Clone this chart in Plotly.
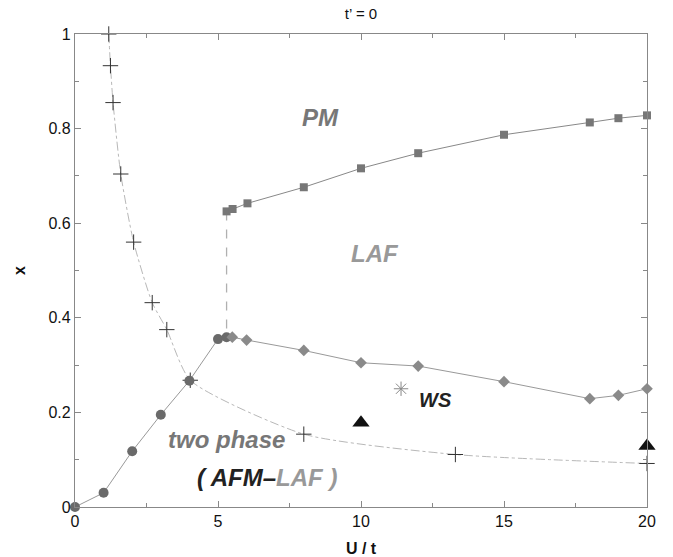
import plotly.graph_objects as go

# PM / LAF boundary (squares)
sq_u = [5.30, 5.51, 6.03, 8.0, 10.0, 12.0, 15.0, 18.0, 19.0, 20.0]
sq_x = [0.625, 0.630, 0.642, 0.676, 0.716, 0.748, 0.787, 0.813, 0.822, 0.828]

# two-phase boundary (circles)
ci_u = [0.0, 1.0, 2.0, 3.0, 4.0, 5.0, 5.3]
ci_x = [0.0, 0.030, 0.118, 0.195, 0.267, 0.355, 0.359]

# LAF / WS boundary (diamonds)
di_u = [5.5, 6.0, 8.0, 10.0, 12.0, 15.0, 18.0, 19.0, 20.0]
di_x = [0.359, 0.353, 0.331, 0.305, 0.298, 0.265, 0.229, 0.236, 0.250]

# vertical dashed boundary
vd_u = [5.3, 5.3]
vd_x = [0.625, 0.359]

# crosses curve
cr_u = [1.18, 1.24, 1.33, 1.60, 2.05, 2.70, 3.21, 4.03, 8.0, 13.3, 20.0]
cr_x = [1.0, 0.933, 0.855, 0.704, 0.560, 0.432, 0.375, 0.268, 0.154, 0.111, 0.092]

# triangles
tr_u = [10.0, 20.0]
tr_x = [0.178, 0.129]

# star
st_u = [11.4]
st_x = [0.250]

fig = go.Figure()

fig.add_trace(go.Scatter(x=vd_u, y=vd_x, mode="lines",
                         line=dict(color="#b0b0b0", width=1.3, dash="dash"), cliponaxis=False))
fig.add_trace(go.Scatter(x=cr_u, y=cr_x, mode="lines+markers",
                         line=dict(color="#b8b8b8", width=1, dash="dashdot", shape="spline", smoothing=0.6),
                         marker=dict(symbol="cross-thin-open", size=11, color="#333", line=dict(width=1, color="#333")),
                         cliponaxis=False))
fig.add_trace(go.Scatter(x=ci_u, y=ci_x, mode="lines+markers",
                         line=dict(color="#999", width=1),
                         marker=dict(symbol="circle", size=10, color="#6a6a6a"), cliponaxis=False))
fig.add_trace(go.Scatter(x=di_u, y=di_x, mode="lines+markers",
                         line=dict(color="#999", width=1),
                         marker=dict(symbol="diamond", size=9, color="#8a8a8a"), cliponaxis=False))
fig.add_trace(go.Scatter(x=sq_u, y=sq_x, mode="lines+markers",
                         line=dict(color="#888", width=1),
                         marker=dict(symbol="square", size=8, color="#777"), cliponaxis=False))
fig.add_trace(go.Scatter(x=tr_u, y=tr_x, mode="markers",
                         marker=dict(symbol="triangle-up", size=15, color="#111"), cliponaxis=False))
fig.add_trace(go.Scatter(x=st_u, y=st_x, mode="markers",
                         marker=dict(symbol="asterisk-open", size=12, color="#888", line=dict(width=1, color="#888")),
                         cliponaxis=False))

lab_font = "Liberation Sans, Arial, sans-serif"
anns = [
    dict(x=8.57, y=0.824, text="<b><i>PM</i></b>", font=dict(size=24, color="#777")),
    dict(x=10.49, y=0.535, text="<b><i>LAF</i></b>", font=dict(size=24, color="#999")),
    dict(x=12.62, y=0.226, text="<b><i>WS</i></b>", font=dict(size=20, color="#222")),
    dict(x=5.3, y=0.143, text="<b><i>two phase</i></b>", font=dict(size=24, color="#777")),
    dict(x=6.7, y=0.063,
         text="<b><i>( AFM\u2013<span style='color:#999'>LAF )</span></i></b>",
         font=dict(size=24, color="#222")),
]
for a in anns:
    a.update(xref="x", yref="y", showarrow=False)
    a["font"]["family"] = lab_font
fig.update_layout(annotations=anns)

axis_common = dict(showline=True, linecolor="#888", linewidth=1.2, mirror="ticks",
                   ticks="inside", ticklen=6, tickcolor="#888", showgrid=False, zeroline=False,
                   automargin=False,
                   tickfont=dict(size=16, color="#111", family=lab_font))
fig.update_xaxes(range=[0, 20], tick0=0, dtick=5,
                 minor=dict(dtick=2.5, ticks="inside", ticklen=4, tickcolor="#888"),
                 title=dict(text="<b>U / t</b>", font=dict(size=16, color="#111", family=lab_font), standoff=14),
                 **axis_common)
fig.update_yaxes(range=[0, 1], tick0=0, dtick=0.2,
                 minor=dict(dtick=0.1, ticks="inside", ticklen=4, tickcolor="#888"),
                 title=dict(text="<b>x</b>", font=dict(size=16, color="#111", family=lab_font), standoff=18),
                 **axis_common)

W, H = 673, 557
fig.update_layout(
    width=W, height=H,
    margin=dict(l=75, r=26, t=34, b=50),
    paper_bgcolor="white", plot_bgcolor="white",
    showlegend=False,
    title=dict(text="t\u2019 = 0", x=0.5, xanchor="center", xref="paper", y=1 - 14 / H, yanchor="middle",
               font=dict(size=15, color="#111", family=lab_font)),
)

fig.write_html("out.html", config={"displayModeBar": False},
               post_script="document.body.style.margin='0';")
